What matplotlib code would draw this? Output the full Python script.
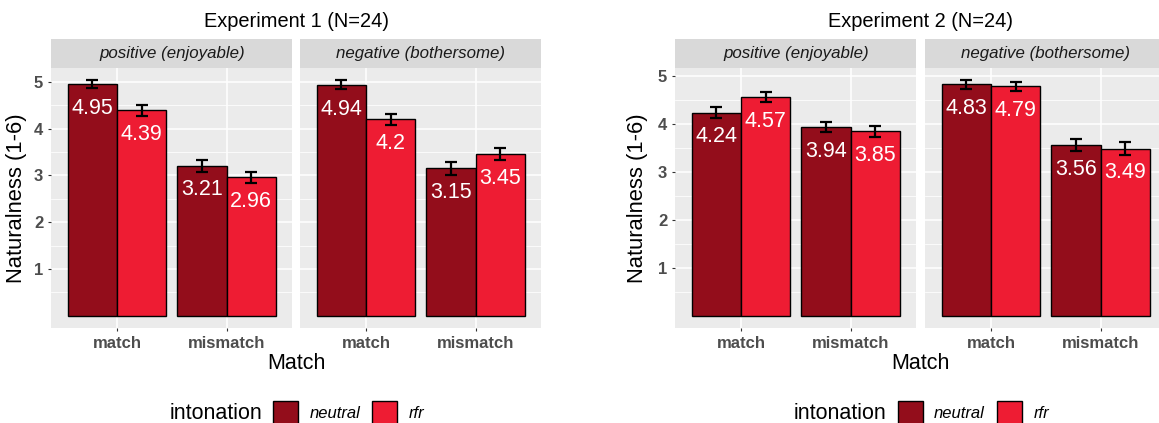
import numpy as np
import matplotlib.pyplot as plt
from matplotlib.patches import Rectangle

plt.rcParams['font.family'] = ['Liberation Sans', 'DejaVu Sans']

W, H = 1159, 423

matches = ['match', 'mismatch']
facets = ['positive (enjoyable)', 'negative (bothersome)']
intonations = ['neutral', 'rfr']
colors = ['#930D1B', '#EE1C33']

exp_titles = ['Experiment 1 (N=24)', 'Experiment 2 (N=24)']

# means per experiment, facet, intonation (match, mismatch)
exp1_pos_neutral = [4.95, 3.21]
exp1_pos_rfr = [4.39, 2.96]
exp1_neg_neutral = [4.94, 3.15]
exp1_neg_rfr = [4.20, 3.45]
exp2_pos_neutral = [4.24, 3.94]
exp2_pos_rfr = [4.57, 3.85]
exp2_neg_neutral = [4.83, 3.56]
exp2_neg_rfr = [4.79, 3.49]

# standard errors
exp1_pos_neutral_se = [0.09, 0.13]
exp1_pos_rfr_se = [0.12, 0.12]
exp1_neg_neutral_se = [0.10, 0.14]
exp1_neg_rfr_se = [0.12, 0.13]
exp2_pos_neutral_se = [0.12, 0.11]
exp2_pos_rfr_se = [0.11, 0.11]
exp2_neg_neutral_se = [0.09, 0.12]
exp2_neg_rfr_se = [0.09, 0.13]

experiments = [
    [[(exp1_pos_neutral, exp1_pos_neutral_se), (exp1_pos_rfr, exp1_pos_rfr_se)],
     [(exp1_neg_neutral, exp1_neg_neutral_se), (exp1_neg_rfr, exp1_neg_rfr_se)]],
    [[(exp2_pos_neutral, exp2_pos_neutral_se), (exp2_pos_rfr, exp2_pos_rfr_se)],
     [(exp2_neg_neutral, exp2_neg_neutral_se), (exp2_neg_rfr, exp2_neg_rfr_se)]],
]

# pixel layout of each experiment block
panel_lefts = [[51.2, 300.3], [675.3, 925.3]]
panel_w = 241.1
panel_top, panel_bot = 68.3, 327.5
strip_top = 39.5
ylab_x = [17, 637]
legend_x = [[170, 273, 310, 372, 409], [794, 898, 934, 997, 1034]]


def box(l, t, r, b):
    return [l / W, 1 - b / H, (r - l) / W, (b - t) / H]


fig = plt.figure(figsize=(W / 100, H / 100), dpi=100)
fig.patch.set_facecolor('white')

for e, exp in enumerate(experiments):
    ymax = max(max(np.add(m, s)) for facet in exp for m, s in facet)
    ylim = (-0.05 * ymax, 1.05 * ymax)
    for f, facet in enumerate(exp):
        l = panel_lefts[e][f]
        ax = fig.add_axes(box(l, panel_top, l + panel_w, panel_bot))
        ax.set_facecolor('#EBEBEB')
        for sp in ax.spines.values():
            sp.set_visible(False)
        ax.set_axisbelow(True)
        x = np.arange(1, len(matches) + 1)
        for i, (m, s) in enumerate(facet):
            xi = x - 0.225 + 0.45 * i
            ax.bar(xi, m, width=0.45, color=colors[i], edgecolor='black',
                   linewidth=1.0, zorder=2)
            ax.errorbar(xi, m, yerr=s, fmt='none', ecolor='black',
                        elinewidth=1.6, capsize=4.3, capthick=1.6, zorder=3)
            for xv, v in zip(xi, m):
                ax.annotate(f'{v:g}', (xv, v), xytext=(0, -17.5),
                            textcoords='offset points', ha='center',
                            va='center', color='white', fontsize=15.5,
                            zorder=4)
        ax.set_xlim(0.4, 2.6)
        ax.set_ylim(*ylim)
        ax.set_xticks(x)
        ax.set_xticklabels(matches)
        ax.set_yticks([1, 2, 3, 4, 5])
        ax.set_yticks([0.5, 1.5, 2.5, 3.5, 4.5], minor=True)
        ax.grid(which='major', color='white', linewidth=1.1)
        ax.grid(which='minor', axis='y', color='white', linewidth=0.55)
        ax.tick_params(which='minor', length=0)
        ax.tick_params(which='major', length=2.3, width=0.8, color='#333333',
                       labelcolor='#4D4D4D', labelsize=12)
        ax.tick_params(axis='x', pad=3.5)
        ax.tick_params(axis='y', pad=3.5)
        for lab in ax.get_xticklabels() + ax.get_yticklabels():
            lab.set_fontweight('bold')
        if f == 1:
            ax.tick_params(axis='y', left=False, labelleft=False)

        sax = fig.add_axes(box(l, strip_top, l + panel_w, panel_top))
        sax.set_facecolor('#D9D9D9')
        sax.set_xticks([])
        sax.set_yticks([])
        for sp in sax.spines.values():
            sp.set_visible(False)
        sax.text(0.5, 0.5, facets[f], transform=sax.transAxes, ha='center',
                 va='center', style='italic', color='#1A1A1A', fontsize=12.2)

    cx = (panel_lefts[e][0] + panel_lefts[e][1] + panel_w) / 2
    fig.text(cx / W, 1 - 21.5 / H, exp_titles[e], ha='center', va='center',
             fontsize=14.4)
    fig.text(cx / W, 1 - 363 / H, 'Match', ha='center', va='center',
             fontsize=15.5)
    fig.text(ylab_x[e] / W, 1 - (panel_top + panel_bot) / 2 / H,
             'Naturalness (1-6)', rotation=90, ha='center', va='center',
             fontsize=15.8)

    lx = legend_x[e]
    fig.text(lx[0] / W, 1 - 413 / H, 'intonation', ha='left', va='center',
             fontsize=15.5)
    for k, name in enumerate(intonations):
        fig.patches.append(Rectangle((lx[1 + 2 * k] / W, 1 - 425 / H),
                                     25 / W, 24 / H, transform=fig.transFigure,
                                     facecolor=colors[k], edgecolor='black',
                                     linewidth=1.0, figure=fig))
        fig.text(lx[2 + 2 * k] / W, 1 - 413 / H, name, ha='left', va='center',
                 style='italic', fontsize=12)

fig.savefig('out.png', dpi=100)
